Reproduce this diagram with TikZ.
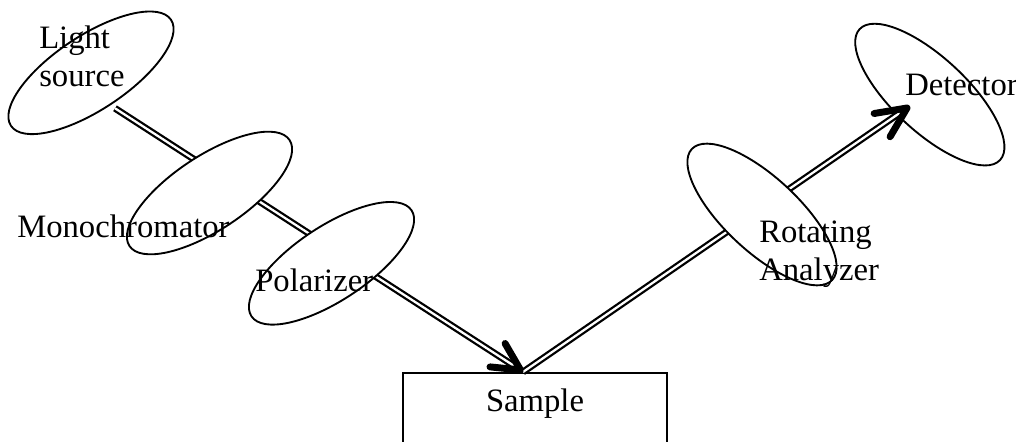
\documentclass[tikz,border=0pt]{standalone}
\usepackage{fontspec}
\setmainfont{Liberation Serif}
\usetikzlibrary{shapes.geometric,calc}
\tikzset{
  lens/.style={draw, ellipse, line width=1.4pt, fill=white,
    minimum width=144pt, minimum height=55.5pt, inner sep=0pt},
  beam/.style={double, double distance=1.7pt, line width=1.7pt},
  tiplines/.style={line width=5.2pt, line cap=round, line join=round},
  lbl/.style={font=\fontsize{24.5pt}{28.5pt}\selectfont, inner sep=0pt,
    anchor=base west, align=left},
  samplebox/.style={draw, line width=1.4pt, anchor=north, minimum width=198pt,
    inner xsep=0pt, inner ysep=12pt, text height=17pt, text depth=40pt,
    font=\fontsize{24.5pt}{28.5pt}\selectfont},
}
\begin{document}
\begin{tikzpicture}[x=0.75pt, y=-0.75pt]
\useasboundingbox (0,0) rectangle (1016,442);
\clip (0,0) rectangle (1016,442);

% sample stage
\node[samplebox] (sample) at (535,372) {Sample};

% detector sits under the incoming beam
\node[lens, rotate=-43] (det) at (929.8,94.6) {};

% beam path coordinates
\coordinate (lamp)  at (115,108.3);
\coordinate (tipA)  at ($(sample.north)+(-14.5,-2)$);
\coordinate (spot)  at ($(sample.north)+(-12,0)$);
\coordinate (tipB)  at ($(det.center)+(-22.8,13.4)$);

% incident and reflected beams
\draw[beam] (lamp) -- (tipA);
\draw[beam] (spot) -- (tipB);

% optical elements on top of the beams
\node[lens, rotate=33.5] (light) at (91,72.8) {};
\node[lens, rotate=33.5] (mono)  at (209.5,193) {};
\node[lens, rotate=33.5] (pol)   at (331.5,263.3) {};
\node[lens, rotate=-43]  (ana)   at (762,214.5) {};

% arrow heads
\draw[tiplines] ($(tipA)!23pt!27:(lamp)$) -- (tipA) -- ($(tipA)!23pt!-27:(lamp)$);
\draw[tiplines] ($(tipB)!25pt!25:(spot)$) -- (tipB) -- ($(tipB)!25pt!-25:(spot)$);

% labels (base west = baseline of the last line)
\node[lbl] (tlight) at (39,87) {Light\\source};
\node[lbl] (tmono)  at (17,237) {Monochromator};
\node[lbl] (tpol)   at (255,291) {Polarizer};
\node[lbl] (tana)   at (759,280) {Rotating\\Analyzer};
\node[lbl] (tdet)   at (905,96) {Detector};
\end{tikzpicture}
\end{document}
